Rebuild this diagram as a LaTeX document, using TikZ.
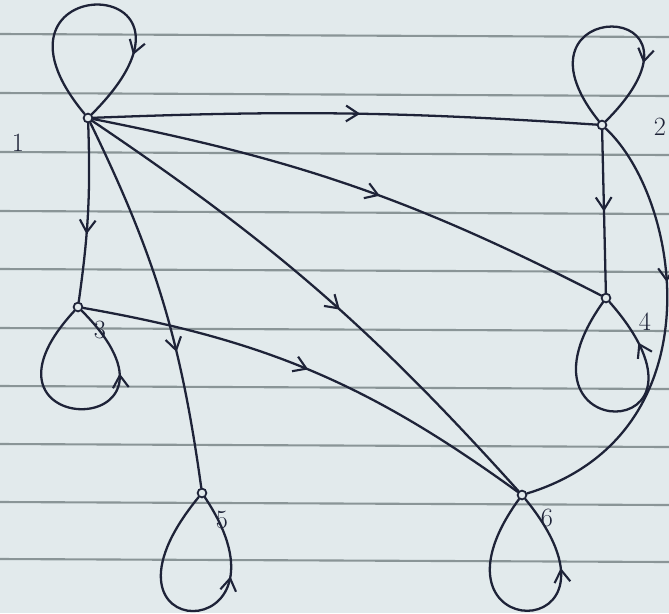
\documentclass[tikz,border=0pt]{standalone}
\usetikzlibrary{arrows.meta,decorations.markings}
\definecolor{paper}{HTML}{E2EAEC}
\definecolor{ink}{HTML}{1E2338}
\definecolor{rulecol}{HTML}{8A9597}
\begin{document}
\begin{tikzpicture}[x=0.02cm,y=0.02cm,
  edge/.style={draw=ink,line width=1.3pt,line cap=round},
  vtx/.style={circle,draw=ink,fill=paper,line width=1pt,inner sep=0pt,minimum size=5pt},
  lbl/.style={text=ink,font=\fontsize{15}{15}\selectfont},
  marr/.style={postaction={decorate},decoration={markings,mark=at position #1 with {\arrow{Straight Barb[length=7pt,width=9pt,line width=1.2pt]}}}},
]
\fill[paper] (0,0) rectangle (669,-613);
\useasboundingbox (0,0) rectangle (669,-613);
\foreach \yy in {34,93,152,211,269,328,386,444,502,559}
  \draw[rulecol,line width=1.2pt] (0,-\yy) -- (669,-\yy-3);

\node[vtx] (n1) at (88,-118) {};
\node[vtx] (n2) at (602,-125) {};
\node[vtx] (n3) at (78,-307) {};
\node[vtx] (n4) at (606,-298) {};
\node[vtx] (n5) at (202,-493) {};
\node[vtx] (n6) at (522,-495) {};

% self loops
\draw[edge,marr=0.75] (n1) .. controls +(-125,150) and +(150,150) .. (n1);
\draw[edge,marr=0.72] (n2) .. controls +(-104,130) and +(130,130) .. (n2);
\draw[edge,marr=0.72] (n3) .. controls +(-125,-135) and +(135,-135) .. (n3);
\draw[edge,marr=0.82] (n4) .. controls +(-107,-150) and +(132,-150) .. (n4);
\draw[edge,marr=0.7] (n5) .. controls +(-128,-156) and +(104,-156) .. (n5);
\draw[edge,marr=0.72] (n6) .. controls +(-111,-153) and +(125,-153) .. (n6);

% edges
\draw[edge,marr=0.53] (n1) to[bend left=3] (n2);
\draw[edge,marr=0.62] (n1) to[bend left=5] (n3);
\draw[edge,marr=0.55] (n1) to[bend left=8] (n4);
\draw[edge,marr=0.64] (n1) to[bend left=9] (n5);
\draw[edge,marr=0.55] (n1) to[bend left=7] (n6);
\draw[edge,marr=0.5] (n2) -- (n4);
\draw[edge,marr=0.49] (n3) to[bend left=13] (n6);
\draw[edge,marr=0.38] (n2) .. controls (682,-200) and (718,-435) .. (n6);

% labels
\node[lbl] (l1) at (18,-143) {1};
\node[lbl] (l2) at (660,-127) {2};
\node[lbl] (l3) at (100,-330) {3};
\node[lbl] (l4) at (645,-322) {4};
\node[lbl] (l5) at (222,-520) {5};
\node[lbl] (l6) at (547,-518) {6};
\end{tikzpicture}
\end{document}
